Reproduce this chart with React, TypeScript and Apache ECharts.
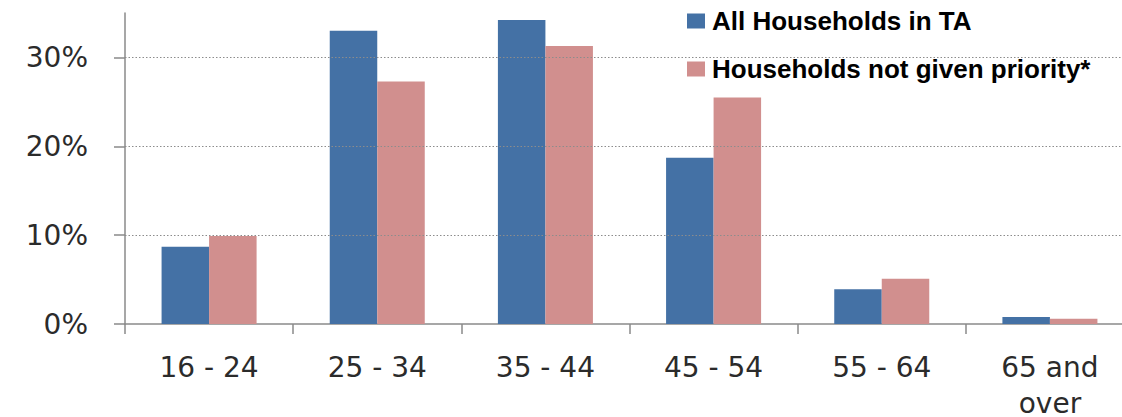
import React, { useEffect, useRef } from "react";
import * as echarts from "echarts";

// Age bands of the household head
const categories = ["16 - 24", "25 - 34", "35 - 44", "45 - 54", "55 - 64", "65 and\nover"];

// Share of households in each age band (%)
const allHouseholdsInTA = [8.7, 33.0, 34.2, 18.7, 3.9, 0.8];
const notGivenPriority = [9.9, 27.3, 31.3, 25.5, 5.1, 0.6];

// Value axis ticks (%)
const yTicks = [0, 10, 20, 30];
const yMax = 35;

const seriesNames = ["All Households in TA", "Households not given priority*"];
const seriesColors = ["#4471a5", "#d18f8e"];

export default function App() {
  const ref = useRef<HTMLDivElement>(null);

  useEffect(() => {
    if (!ref.current) return;
    const chart = echarts.init(ref.current, undefined, { renderer: "svg" });

    const axisColor = "#8a8a8a";

    chart.setOption({
      animation: false,
      backgroundColor: "#ffffff",
      grid: {
        left: 125,
        top: 13,
        width: 1009,
        height: 311,
        containLabel: false,
        outerBoundsMode: "none",
      },
      legend: {
        data: seriesNames,
        orient: "vertical",
        left: 682,
        top: 3,
        padding: 5,
        itemWidth: 18,
        itemHeight: 15,
        itemGap: 22,
        icon: "rect",
        textStyle: {
          fontFamily: "Liberation Sans",
          fontWeight: "bold",
          fontSize: 26,
          lineHeight: 26,
          color: "#000000",
          padding: [0, 0, 0, 2],
        },
      },
      xAxis: {
        type: "category",
        data: categories,
        axisLine: { lineStyle: { color: axisColor, width: 1.5 } },
        axisTick: { show: true, length: 10, lineStyle: { color: axisColor, width: 1.5 } },
        axisLabel: {
          margin: 25,
          fontFamily: "DejaVu Sans",
          fontSize: 28,
          lineHeight: 36,
          color: "#2b2b2b",
          interval: 0,
        },
      },
      yAxis: {
        type: "value",
        min: 0,
        max: yMax,
        interval: 10,
        axisLine: { show: true, lineStyle: { color: axisColor, width: 1.5 } },
        axisTick: {
          show: true,
          length: 11,
          customValues: yTicks,
          lineStyle: { color: axisColor, width: 1.5 },
        },
        axisLabel: {
          customValues: yTicks,
          margin: 37,
          fontFamily: "DejaVu Sans",
          fontSize: 28,
          color: "#2b2b2b",
          formatter: (v: number) => `${v}%`,
        },
        splitLine: { show: false },
      },
      series: [
        {
          name: seriesNames[0],
          type: "bar",
          data: allHouseholdsInTA,
          barGap: "0%",
          barCategoryGap: "43.5%",
          itemStyle: { color: seriesColors[0] },
          z: 3,
        },
        {
          name: seriesNames[1],
          type: "bar",
          data: notGivenPriority,
          itemStyle: { color: seriesColors[1] },
          z: 3,
        },
        {
          // dotted horizontal gridlines at the labelled ticks
          name: "gridlines",
          type: "line",
          data: [],
          z: 1,
          silent: true,
          markLine: {
            silent: true,
            symbol: ["none", "none"],
            label: { show: false },
            lineStyle: { color: "#8c8c8c", type: [1.5, 2], width: 1 },
            data: yTicks.filter((v) => v > 0).map((v) => ({ yAxis: v })),
          },
        },
      ],
    });

    return () => chart.dispose();
  }, []);

  return (
    <div
      ref={ref}
      style={{ position: "fixed", left: 0, top: 0, width: 1122, height: 417 }}
    />
  );
}
